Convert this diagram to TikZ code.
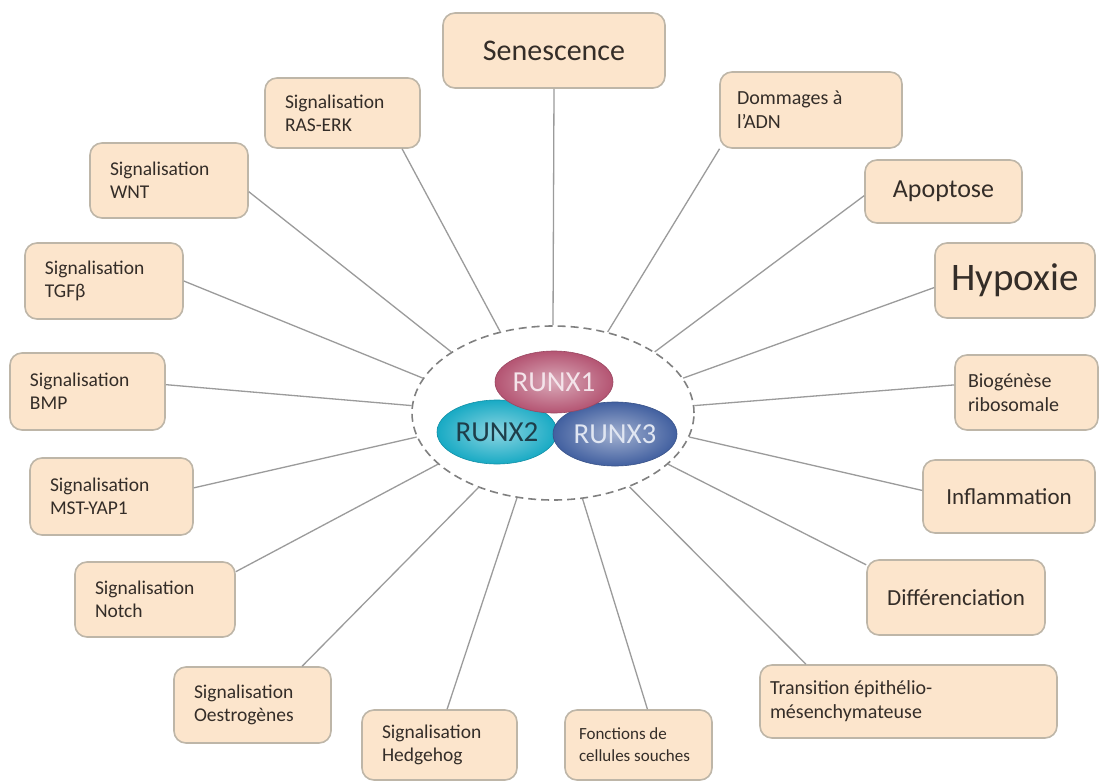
\documentclass[tikz,border=0pt]{standalone}
\usepackage{fontspec}
\setmainfont{Carlito}
\usetikzlibrary{shapes.geometric}
\definecolor{boxfill}{RGB}{252,229,204}
\definecolor{boxline}{RGB}{190,182,168}
\definecolor{txt}{RGB}{52,45,40}
\definecolor{linkgray}{RGB}{155,155,155}
\definecolor{ringgray}{RGB}{128,128,128}
\definecolor{runxone}{RGB}{180,84,114}
\definecolor{runxtwo}{RGB}{24,170,196}
\definecolor{runxthree}{RGB}{66,96,160}
\newcommand\normspace{\spaceskip0pt\relax}
\begin{document}
\begin{tikzpicture}[x=1pt, y=-1pt,
  box/.style={draw=boxline, fill=boxfill, line width=1.6pt, rounded corners=12pt, inner xsep=20pt, align=left, text=txt, font=\fontsize{19.5}{23}\selectfont},
  link/.style={draw=linkgray, line width=1.3pt},
  runx/.style={ellipse, draw=#1!85!black, line width=.6pt, inner color=#1!50!white, outer color=#1, inner sep=0pt, font=\fontsize{29}{29}\selectfont}]
\useasboundingbox[fill=white] (0,0) rectangle (1101,782);
\node[draw=ringgray, dashed, dash pattern=on 8pt off 5pt, line width=1.6pt, ellipse, minimum width=282pt, minimum height=174pt, inner sep=0pt] (ring) at (553,413) {};
\node[runx=runxtwo, minimum width=120pt, minimum height=64pt, text={rgb,255:red,30;green,62;blue,74}] (r2) at (497,432) {RUNX2};
\node[runx=runxthree, minimum width=124pt, minimum height=64pt, text={rgb,255:red,224;green,230;blue,242}] (r3) at (615,434) {RUNX3};
\node[runx=runxone, minimum width=118pt, minimum height=62pt, text={rgb,255:red,244;green,228;blue,234}] (r1) at (554,382) {RUNX1};

\node[box, align=center, text width=182pt, minimum height=75pt, font=\fontsize{30}{30}\selectfont] (sen) at (554,50.5) {Senescence};
\node[box, text width=115pt, minimum height=70pt] (ras) at (342.5,113) {Signalisation\\RAS-ERK};
\node[box, inner xsep=17pt, text width=148pt, minimum height=76pt, font=\fontsize{20}{24}\selectfont] (adn) at (811,110) {\normspace Dommages à\\l’ADN};
\node[box, text width=118pt, minimum height=75pt] (wnt) at (169,180.5) {Signalisation\\WNT};
\node[box, align=center, text width=117pt, minimum height=63pt, font=\fontsize{26}{26}\selectfont] (apo) at (943.5,191.5) {Apoptose};
\node[box, text width=118pt, minimum height=76pt] (tgf) at (104,281) {Signalisation\\TGFβ};
\node[box, align=center, text width=130pt, inner xsep=15pt, minimum height=75pt, font=\fontsize{39}{39}\selectfont] (hyp) at (1015,280.5) {Hypoxie};
\node[box, text width=115pt, minimum height=77pt] (bmp) at (87.5,391.5) {Signalisation\\BMP};
\node[box, inner xsep=13pt, text width=117pt, minimum height=75pt, font=\fontsize{20}{24}\selectfont] (bio) at (1026.5,392.5) {Biogénèse\\ribosomale};
\node[box, text width=123pt, minimum height=77pt] (mst) at (111.5,496.5) {Signalisation\\MST-YAP1};
\node[box, align=center, text width=132pt, minimum height=73pt, font=\fontsize{23}{23}\selectfont] (inf) at (1009,496.5) {Inflammation};
\node[box, text width=120pt, minimum height=75pt] (notch) at (155,599.5) {Signalisation\\Notch};
\node[box, align=center, text width=138pt, minimum height=75pt, font=\fontsize{23}{23}\selectfont] (diff) at (956,597.5) {Différenciation};
\node[box, text width=117pt, minimum height=76pt] (oes) at (252.5,705) {Signalisation\\Oestrogènes};
\node[box, inner xsep=10pt, text width=277pt, minimum height=73pt, font=\fontsize{20}{24}\selectfont] (emt) at (908.5,701.5) {\normspace Transition épithélio-\\mésenchymateuse};
\node[box, text width=115pt, minimum height=70pt] (hh) at (439.5,745) {Signalisation\\Hedgehog};
\node[box, inner xsep=14pt, text width=119pt, minimum height=70pt, font=\fontsize{17}{22}\selectfont] (fonc) at (638.5,745) {\normspace Fonctions de\\cellules souches};

\foreach \b/\a/\r in {sen/south/90, ras/-31/123, adn/203/56, wnt/-8/149, apo/183/31, tgf/0/165, hyp/185/15, bmp/5/177, bio/174/3, mst/6/190, inf/176/350, notch/19/204, diff/160/336, oes/38/225, emt/160/316, hh/78/247, fonc/76/289}
  \draw[link] (\b.\a) -- (ring.\r);
\end{tikzpicture}
\end{document}
